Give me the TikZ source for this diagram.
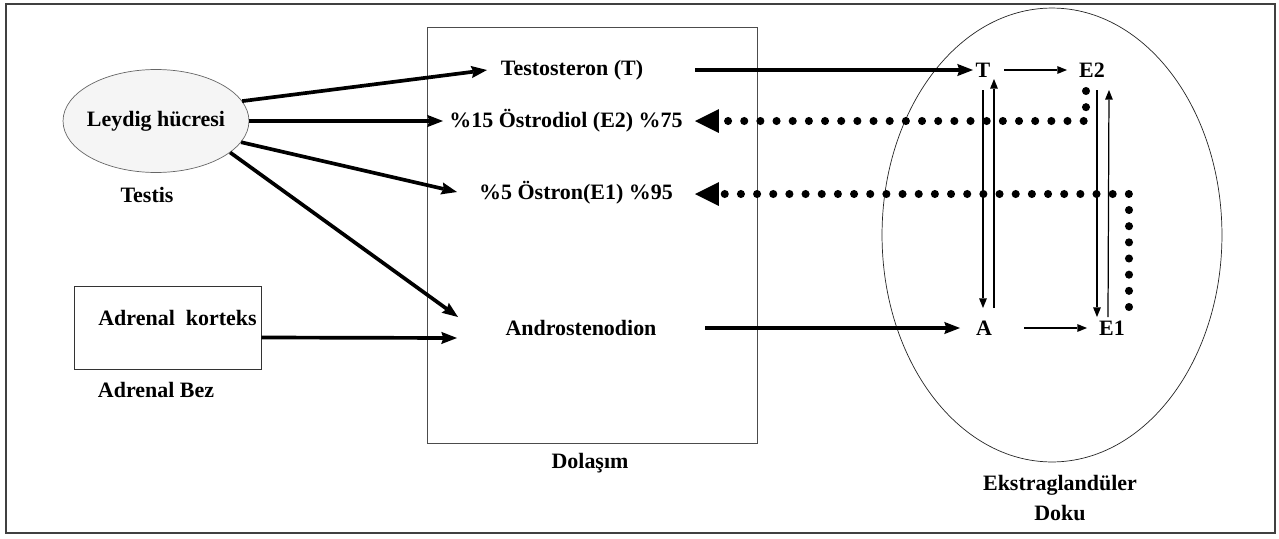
\documentclass[tikz,border=0pt]{standalone}
\usepackage{fontspec}
\setmainfont{Liberation Serif}
\usetikzlibrary{positioning,shapes.geometric,arrows.meta}

\begin{document}
\begin{tikzpicture}[x=0.02cm,y=-0.02cm,
	every node/.style={font=\fontsize{12.5}{17}\selectfont\bfseries},
	textnode/.style={inner sep=0pt},
	cellnode/.style={ellipse,draw=black!60,fill=black!4,minimum width=3.72cm,minimum height=2.06cm,inner sep=0pt},
	boxnode/.style={rectangle,draw=black!80,fill=white,minimum width=3.74cm,minimum height=1.66cm,inner sep=0pt},
	circnode/.style={rectangle,draw=black!70,fill=white,minimum width=6.6cm,minimum height=8.32cm,inner sep=0pt},
	tissuenode/.style={ellipse,draw=black!85,fill=white,minimum width=6.8cm,minimum height=9.08cm,inner sep=0pt},
	thickarrow/.style={line width=2.1pt,-{Stealth[length=9pt,width=7pt,inset=1.2pt,line width=0pt]}},
	thinarrow/.style={line width=0.7pt,-{Triangle[length=5.5pt,width=4.5pt,line width=0pt]}},
	dotarrow/.style={line width=4.6pt,line cap=round,dash pattern=on 0pt off 9.2pt,-{Triangle[length=13.6pt,width=13.6pt,line width=0pt]}}]
			\useasboundingbox (0,0) rectangle (1279,538);
			\draw[draw=black!75,line width=0.8pt] (6,4) rectangle (1275,533);

			\node[cellnode,label=center:Leydig hücresi]								(leydig)	at (156,121)	{};
			\node[textnode]															(testis)	at (147,195)	{Testis};
			\node[boxnode,label={[shift={(10,-10)}]center:Adrenal\ \ korteks}]	(adrenal)	at (167.5,327.5)	{};
			\node[textnode]															(bez)		at (156,390)	{Adrenal Bez};

			\node[circnode]															(dolasim)	at (592,235)	{};
			\node[textnode]															(dlabel)	at (590,463)	{Dolaşım};
			\node[textnode]															(testo)		at (572,70)		{Testosteron (T)};
			\node[textnode]															(estradiol)	at (566,121)	{\%15 Östrodiol (E2) \%75};
			\node[textnode]															(estron)	at (576,193)	{\%5 Östron(E1) \%95};
			\node[textnode]															(andro)		at (581,328)	{Androstenodion};

			\node[tissuenode]														(doku)		at (1052,235)	{};
			\node[textnode,align=center]											(dokulabel)	at (1060,498)	{Ekstraglandüler\\Doku};
			\node[textnode]															(t)			at (983,70)		{T};
			\node[textnode]															(e2)		at (1092,70)	{E2};
			\node[textnode]															(a)			at (984,328)	{A};
			\node[textnode]															(e1)		at (1112,328)	{E1};

			\draw[thickarrow] (leydig.13) -- ([shift={(-85,0)}]testo.center);
			\draw[thickarrow] (leydig.east) -- ([shift={(-123,0)}]estradiol.center);
			\draw[thickarrow] (leydig.346) -- ([shift={(-119,-1)}]estron.center);
			\draw[thickarrow] (leydig.337) -- ([shift={(-123,-11)}]andro.center);
			\draw[thickarrow] ([shift={(0,10)}]adrenal.east) -- ([shift={(-124,10)}]andro.center);
			\draw[thickarrow] ([shift={(123,0)}]testo.center) -- ([shift={(-10,0)}]t.center);
			\draw[thickarrow] ([shift={(124,0)}]andro.center) -- ([shift={(-24,0)}]a.center);

			\draw[thinarrow] ([shift={(21,0)}]t.center) -- ([shift={(-25,0)}]e2.center);
			\draw[thinarrow] ([shift={(40,0)}]a.center) -- ([shift={(-25,0)}]e1.center);
			\draw[thinarrow] ([shift={(0,20)}]t.center) -- ([shift={(-1,-20)}]a.center);
			\draw[thinarrow] ([shift={(10,-20)}]a.center) -- ([shift={(11,9)}]t.center);
			\draw[thinarrow] ([shift={(5,20)}]e2.center) -- ([shift={(-15,-11)}]e1.center);
			\draw[thinarrow] ([shift={(-4,-11)}]e1.center) -- ([shift={(17,20)}]e2.center);

			\draw[dotarrow] ([shift={(-6,21)}]e2.center) |- ([shift={(129,0)}]estradiol.center);
			\draw[dotarrow] ([shift={(17,-21)}]e1.center) |- ([shift={(119,1)}]estron.center);
		\end{tikzpicture}
\end{document}
